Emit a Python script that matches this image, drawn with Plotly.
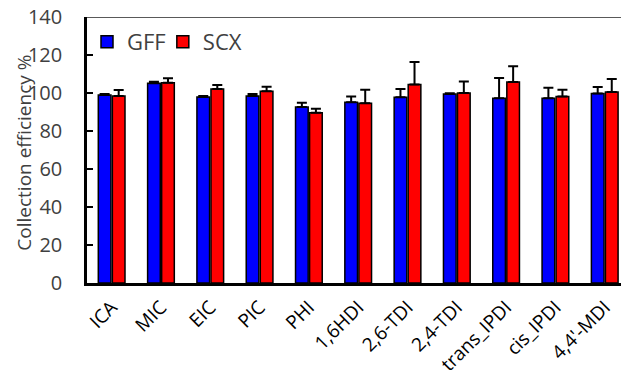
import plotly.graph_objects as go

categories = ["ICA", "MIC", "EIC", "PIC", "PHI", "1,6HDI", "2,6-TDI", "2,4-TDI", "trans_IPDI", "cis_IPDI", "4,4'-MDI"]
gff = [98.9, 105.1, 97.9, 98.4, 92.6, 95.1, 97.7, 99.5, 97.2, 97.2, 99.8]
gff_err = [0.6, 0.8, 0.5, 1.1, 2.3, 3.0, 4.4, 0.4, 10.7, 5.6, 3.4]
scx = [98.4, 105.4, 102.1, 100.9, 89.6, 94.6, 104.5, 100.0, 105.8, 98.2, 100.5]
scx_err = [3.2, 2.3, 2.1, 2.4, 2.1, 7.1, 11.8, 6.0, 8.3, 3.5, 6.9]
y_ticks = [0, 20, 40, 60, 80, 100, 120, 140]
y_title = "Collection efficiency %"

FONT = "Open Sans"
zeros = [0] * len(categories)

fig = go.Figure()
fig.add_trace(go.Bar(
    name="GFF", x=categories, y=gff, legend="legend",
    marker=dict(color="#0000FF", line=dict(color="black", width=1.5)),
    error_y=dict(type="data", array=gff_err, arrayminus=zeros, symmetric=False,
                 color="black", thickness=2, width=5),
))
fig.add_trace(go.Bar(
    name="SCX", x=categories, y=scx, legend="legend2",
    marker=dict(color="#FF0000", line=dict(color="black", width=1.5)),
    error_y=dict(type="data", array=scx_err, arrayminus=zeros, symmetric=False,
                 color="black", thickness=2, width=5),
))

fig.add_shape(type="line", xref="paper", yref="y", x0=0, x1=1, y0=140, y1=140,
              line=dict(color="#595959", width=2))

fig.add_annotation(text=y_title, textangle=-90, xref="paper", yref="paper",
                   x=(24 - 87) / 534, y=0.49, xanchor="center", yanchor="middle",
                   showarrow=False, font=dict(size=19, color="#404040", family=FONT))

legend_common = dict(orientation="h", yanchor="top", y=0.985, xanchor="left",
                     font=dict(size=22, color="#404040", family=FONT),
                     bgcolor="rgba(0,0,0,0)", itemwidth=30)

fig.update_layout(
    width=621, height=380,
    margin=dict(l=87, r=0, t=17, b=97),
    paper_bgcolor="white", plot_bgcolor="white",
    barmode="group", bargap=0.43, bargroupgap=0.1,
    font=dict(family=FONT, color="#404040"),
    legend=dict(x=0.0, **legend_common),
    legend2=dict(x=0.142, **legend_common),
    showlegend=True,
)
fig.update_xaxes(
    type="category", range=[-0.5, 10.33], automargin=False,
    showline=True, linecolor="black", linewidth=2.5,
    ticks="", tickangle=-45, ticklabelstandoff=3,
    tickfont=dict(size=19, color="black", family=FONT),
    showgrid=False, zeroline=False,
)
fig.update_yaxes(
    range=[0, 140], tickvals=y_ticks, automargin=False,
    showline=True, linecolor="black", linewidth=2.5,
    ticks="inside", ticklen=6, tickwidth=1.5, tickcolor="black",
    ticklabelstandoff=18, ticklabeloverflow="allow",
    tickfont=dict(size=20, color="#404040", family=FONT),
    showgrid=False, zeroline=False,
)

fig.write_html("out.html", config={"displayModeBar": False},
               post_script="document.body.style.margin='0';")
